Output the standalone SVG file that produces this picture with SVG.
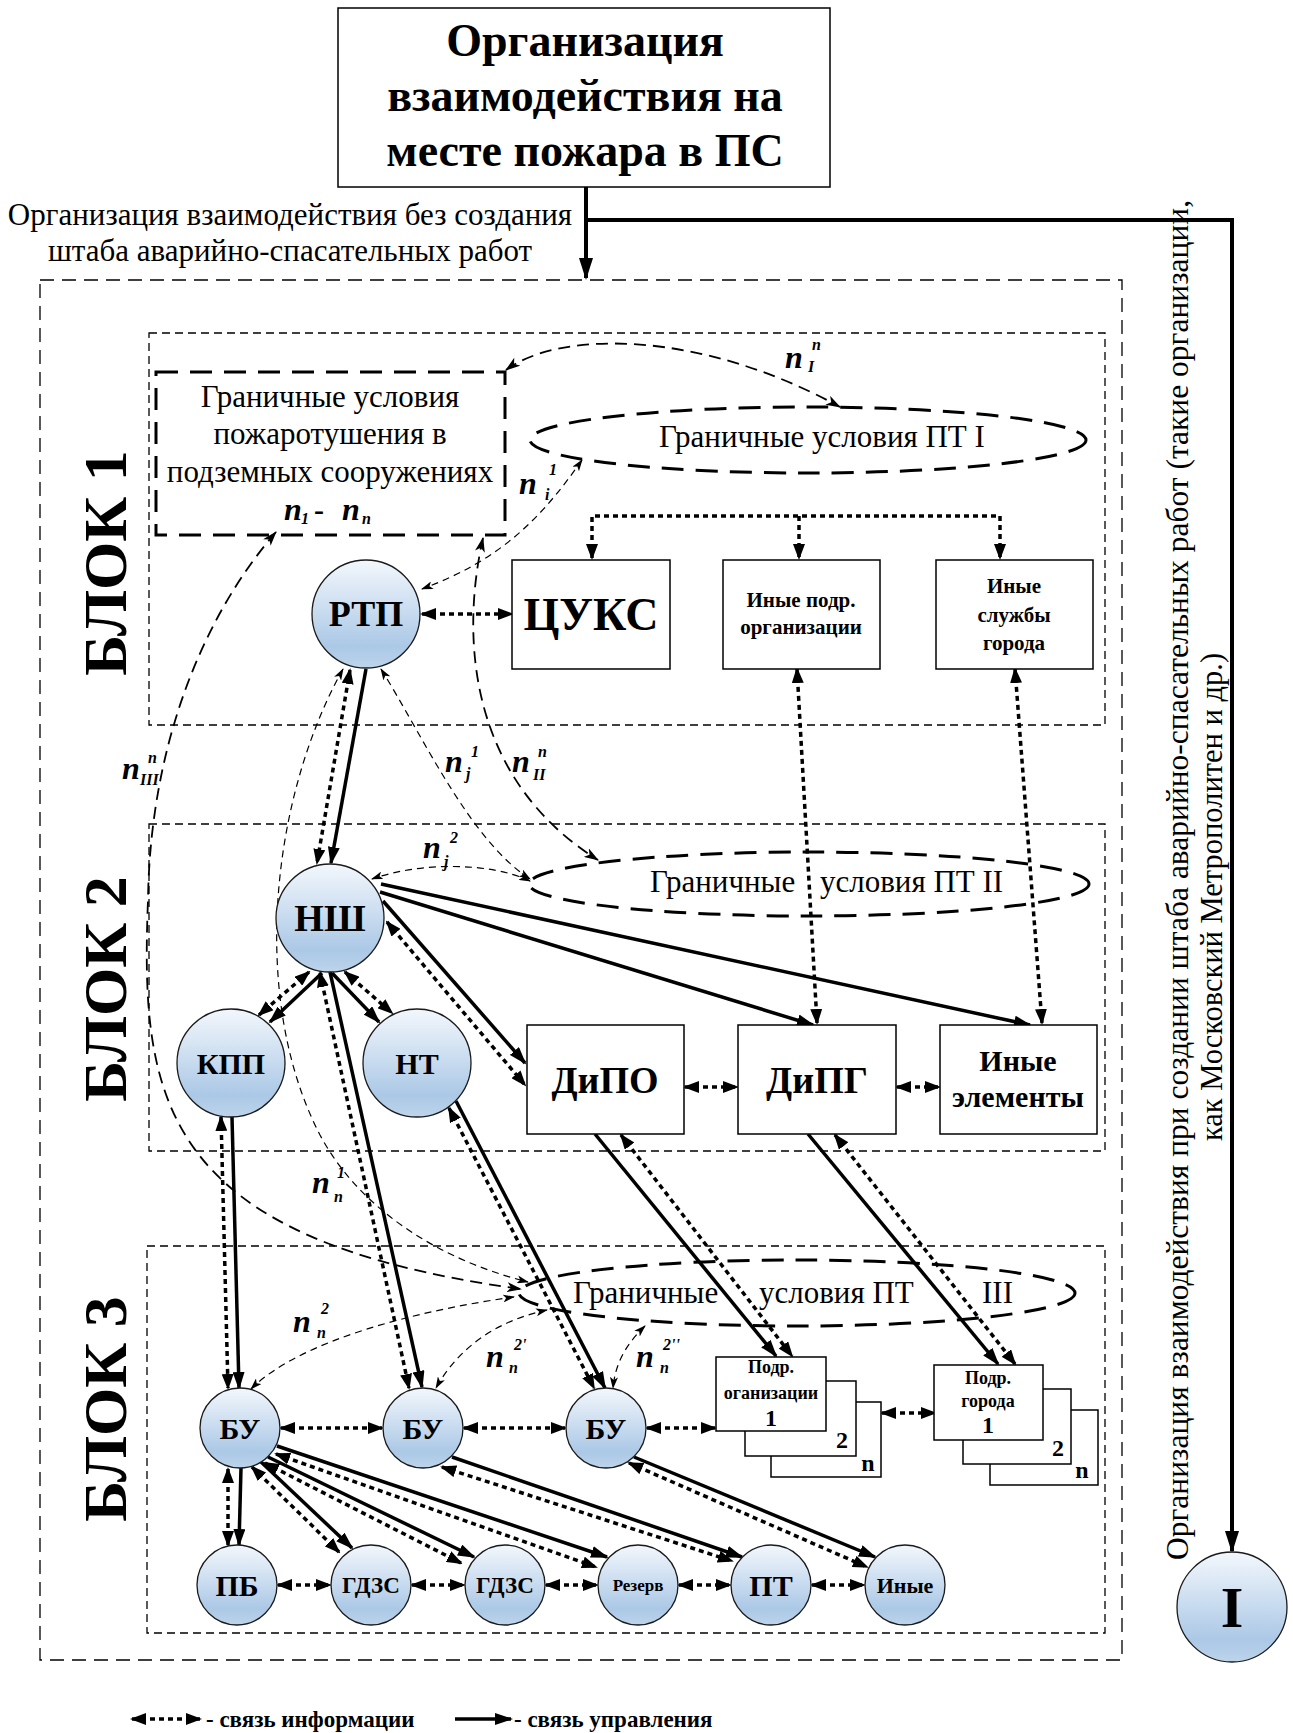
<svg xmlns="http://www.w3.org/2000/svg" width="1293" height="1733" viewBox="0 0 1293 1733">
<defs>
<linearGradient id="cg" x1="0" y1="0" x2="0" y2="1">
<stop offset="0" stop-color="#f3f7fc"/>
<stop offset="0.45" stop-color="#cbddf0"/>
<stop offset="0.8" stop-color="#abc8e6"/>
<stop offset="1" stop-color="#bdd4eb"/>
</linearGradient>
<marker id="as" viewBox="0 0 18 12" refX="16" refY="6" markerWidth="18" markerHeight="12" markerUnits="userSpaceOnUse" orient="auto-start-reverse"><path d="M0,0 L18,6 L0,12 z" fill="#000"/></marker>
<marker id="ai" viewBox="0 0 16 12" refX="14" refY="6" markerWidth="16" markerHeight="12" markerUnits="userSpaceOnUse" orient="auto-start-reverse"><path d="M0,0 L16,6 L0,12 z" fill="#000"/></marker>
<marker id="at" viewBox="0 0 12 8" refX="11" refY="4" markerWidth="12" markerHeight="8" markerUnits="userSpaceOnUse" orient="auto-start-reverse"><path d="M0,0 L12,4 L0,8 L3,4 z" fill="#000"/></marker>
<marker id="am" viewBox="0 0 15 10" refX="14" refY="5" markerWidth="15" markerHeight="10" markerUnits="userSpaceOnUse" orient="auto-start-reverse"><path d="M0,0 L15,5 L0,10 L4,5 z" fill="#000"/></marker>
<marker id="ab" viewBox="0 0 22 14" refX="20" refY="7" markerWidth="22" markerHeight="14" markerUnits="userSpaceOnUse" orient="auto-start-reverse"><path d="M0,0 L22,7 L0,14 z" fill="#000"/></marker>
</defs>
<style>
.s{fill:none;stroke:#000;stroke-width:3.5;marker-end:url(#as)}
.d{fill:none;stroke:#000;stroke-width:3.5;stroke-dasharray:5 4;marker-start:url(#ai);marker-end:url(#ai)}
.t{fill:none;stroke:#000;stroke-width:1.2;stroke-dasharray:7 5;marker-start:url(#at);marker-end:url(#at)}
.m{fill:none;stroke:#000;stroke-width:1.8;stroke-dasharray:12 7;marker-start:url(#am);marker-end:url(#am)}
.big{fill:none;stroke:#000;stroke-width:4;marker-end:url(#ab)}
.e{fill:none;stroke:#000;stroke-width:3;stroke-dasharray:22 12}
.blk{fill:none;stroke:#000;stroke-width:1.3;stroke-dasharray:8 5}
.out{fill:none;stroke:#000;stroke-width:1.3;stroke-dasharray:14 8}
.box{fill:#fff;stroke:#000;stroke-width:1.5}
.nd{fill:url(#cg);stroke:#1a1a1a;stroke-width:1.3}
text{font-family:"Liberation Serif","Times New Roman",serif;fill:#000}
.c{text-anchor:middle}
.bo{font-weight:bold}
.nl{font-weight:bold;font-style:italic;font-size:32px}
.ns{font-weight:bold;font-style:italic;font-size:16px}
.r30{font-size:31px}
</style>

<!-- frames -->
<g id="frames">
<rect class="out" x="40" y="280" width="1082" height="1380"/>
<rect class="blk" x="149" y="333" width="956" height="392"/>
<rect class="blk" x="149" y="824" width="956" height="327"/>
<rect class="blk" x="147" y="1246" width="958" height="387"/>
<text class="c bo" font-size="62" transform="translate(126,563) rotate(-90)">БЛОК 1</text>
<text class="c bo" font-size="62" transform="translate(126,989) rotate(-90)">БЛОК 2</text>
<text class="c bo" font-size="62" transform="translate(126,1409) rotate(-90)">БЛОК 3</text>
</g>

<!-- title -->
<g id="title">
<rect class="box" x="338" y="8" width="492" height="179"/>
<text class="c bo" font-size="46" x="585" y="56">Организация</text>
<text class="c bo" font-size="46" x="585" y="111">взаимодействия на</text>
<text class="c bo" font-size="46" x="585" y="166">месте пожара в ПС</text>
</g>

<g id="label-left">
<text class="c r30" x="290" y="225">Организация взаимодействия без создания</text>
<text class="c r30" x="290" y="261">штаба аварийно-спасательных работ</text>
</g>
<g id="label-right">
<text class="c" font-size="31.5" transform="translate(1188,880) rotate(-90)">Организация взаимодействия при создании штаба аварийно-спасательных работ (такие организации,</text>
<text class="c" font-size="30.5" transform="translate(1222,897) rotate(-90)">как Московский Метрополитен и др.)</text>
</g>

<!-- boundary conditions -->
<g id="gu-box">
<rect class="e" x="156" y="372" width="349" height="163"/>
<text class="c r30" x="330" y="407">Граничные условия</text>
<text class="c r30" x="330" y="444">пожаротушения в</text>
<text class="c r30" x="330" y="482">подземных сооружениях</text>
<text class="nl" font-size="30" x="284" y="520">n</text>
<text class="ns" font-size="15" x="301" y="524">1</text>
<text class="bo" font-size="30" x="314" y="520">-</text>
<text class="nl" font-size="30" x="342" y="520">n</text>
<text class="ns" font-size="15" x="362" y="524">n</text>
</g>
<g id="gu-pt1">
<ellipse class="e" cx="808" cy="440" rx="278" ry="33"/>
<text class="c r30" x="822" y="447">Граничные условия ПТ I</text>
</g>
<g id="gu-pt2">
<ellipse class="e" cx="809" cy="884" rx="280" ry="32"/>
<text class="r30" x="650" y="892">Граничные</text>
<text class="r30" x="820" y="892">условия ПТ II</text>
</g>
<g id="gu-pt3">
<ellipse class="e" cx="797" cy="1293" rx="278" ry="33"/>
<text class="r30" x="573" y="1303">Граничные</text>
<text class="r30" x="759" y="1303">условия ПТ</text>
<text class="r30" x="982" y="1303">III</text>
</g>

<!-- connectors -->
<g id="connectors">
<path class="big" d="M586,187 L586,278"/>
<path class="big" d="M586,220 L1232,220 L1232,1551"/>

<path class="s" d="M366,669 L331,863"/>
<path class="s" d="M322,973 L270,1022"/>
<path class="s" d="M332,973 L379,1022"/>
<path class="s" d="M383,901 L525,1063"/>
<path class="s" d="M380,892 L813,1025"/>
<path class="s" d="M381,884 L1030,1025"/>
<path class="s" d="M330,972 L422,1387"/>
<path class="s" d="M232,1117 L239,1388"/>
<path class="s" d="M456,1101 L605,1388"/>
<path class="s" d="M595,1134 L776,1356"/>
<path class="s" d="M808,1134 L998,1364"/>
<path class="s" d="M241,1468 L239,1545"/>
<path class="s" d="M260,1461 L352,1548"/>
<path class="s" d="M268,1457 L474,1557"/>
<path class="s" d="M277,1446 L607,1557"/>
<path class="s" d="M452,1457 L742,1557"/>
<path class="s" d="M634,1457 L875,1557"/>

<path class="d" d="M422,614 L512,614"/>
<path class="d" d="M592,558 L592,516 L1000,516 L1000,558"/>
<path class="d" style="marker-start:none" d="M799,516 L799,558"/>
<path class="d" d="M797,669 L817,1023"/>
<path class="d" d="M1015,669 L1042,1023"/>
<path class="d" d="M350,670 L317,863"/>
<path class="d" d="M309,972 L259,1015"/>
<path class="d" d="M345,972 L392,1013"/>
<path class="d" d="M387,922 L525,1085"/>
<path class="d" d="M320,973 L409,1388"/>
<path class="d" d="M221,1117 L228,1388"/>
<path class="d" d="M449,1108 L594,1388"/>
<path class="d" d="M621,1135 L792,1356"/>
<path class="d" d="M835,1135 L1015,1364"/>
<path class="d" d="M685,1087 L737,1087"/>
<path class="d" d="M897,1087 L939,1087"/>
<path class="d" d="M281,1428 L382,1428"/>
<path class="d" d="M464,1428 L565,1428"/>
<path class="d" d="M647,1428 L715,1428"/>
<path class="d" d="M882,1413 L935,1413"/>
<path class="d" d="M228,1469 L228,1545"/>
<path class="d" d="M252,1467 L339,1552"/>
<path class="d" d="M265,1463 L461,1563"/>
<path class="d" d="M276,1454 L596,1567"/>
<path class="d" d="M442,1467 L732,1561"/>
<path class="d" d="M629,1463 L867,1567"/>
<path class="d" d="M278,1585 L330,1585"/>
<path class="d" d="M412,1585 L464,1585"/>
<path class="d" d="M546,1585 L597,1585"/>
<path class="d" d="M679,1585 L730,1585"/>
<path class="d" d="M812,1585 L864,1585"/>

<path class="t" d="M582,460 C540,520 500,560 422,589"/>
<path class="t" d="M381,669 C425,740 470,840 530,879"/>
<path class="t" d="M530,881 C490,862 420,862 372,879"/>
<path class="t" d="M343,669 C270,800 250,1000 320,1135 C360,1210 440,1260 528,1282"/>
<path class="t" d="M514,1297 C420,1310 300,1340 251,1389"/>
<path class="t" d="M547,1310 C500,1320 460,1345 436,1388"/>
<path class="t" d="M645,1326 C625,1345 615,1365 613,1388"/>

<path class="m" d="M506,370 C560,330 700,330 840,407"/>
<path class="m" d="M483,538 C460,640 470,780 598,860"/>
<path class="m" d="M276,532 C200,620 150,750 148,900 C140,1100 160,1240 521,1289"/>
</g>

<!-- link labels -->
<g id="link-labels">
<text class="nl" x="785" y="368">n</text><text class="ns" x="812" y="350">n</text><text class="ns" x="808" y="372">I</text>
<text class="nl" x="519" y="494">n</text><text class="ns" x="549" y="475">1</text><text class="ns" x="545" y="500">i</text>
<text class="nl" x="122" y="779">n</text><text class="ns" x="148" y="763">n</text><text class="ns" x="140" y="785">III</text>
<text class="nl" x="445" y="772">n</text><text class="ns" x="471" y="757">1</text><text class="ns" x="466" y="779">j</text>
<text class="nl" x="512" y="772">n</text><text class="ns" x="538" y="757">n</text><text class="ns" x="533" y="780">II</text>
<text class="nl" x="423" y="858">n</text><text class="ns" x="450" y="843">2</text><text class="ns" x="444" y="867">j</text>
<text class="nl" x="312" y="1193">n</text><text class="ns" x="337" y="1178">1</text><text class="ns" x="334" y="1202">n</text>
<text class="nl" x="293" y="1332">n</text><text class="ns" x="321" y="1314">2</text><text class="ns" x="317" y="1338">n</text>
<text class="nl" x="486" y="1367">n</text><text class="ns" x="514" y="1350">2'</text><text class="ns" x="509" y="1373">n</text>
<text class="nl" x="636" y="1367">n</text><text class="ns" x="663" y="1350">2''</text><text class="ns" x="660" y="1373">n</text>
</g>

<!-- nodes -->
<g id="node-rtp"><circle class="nd" cx="366" cy="614" r="54"/><text class="c bo" font-size="36" x="366" y="626">РТП</text></g>
<g id="node-cuks"><rect class="box" x="512" y="560" width="158" height="109"/><text class="c bo" font-size="46" x="591" y="630">ЦУКС</text></g>
<g id="node-inye-podr"><rect class="box" x="723" y="560" width="157" height="109"/><text class="c bo" font-size="21" x="801" y="607">Иные подр.</text><text class="c bo" font-size="21" x="801" y="634">организации</text></g>
<g id="node-inye-sluzhby"><rect class="box" x="936" y="560" width="157" height="109"/><text class="c bo" font-size="21" x="1014" y="593">Иные</text><text class="c bo" font-size="21" x="1014" y="622">службы</text><text class="c bo" font-size="21" x="1014" y="650">города</text></g>

<g id="node-nsh"><circle class="nd" cx="330" cy="918" r="54"/><text class="c bo" font-size="38" x="330" y="931">НШ</text></g>
<g id="node-kpp"><circle class="nd" cx="231" cy="1063" r="54"/><text class="c bo" font-size="30" x="231" y="1074">КПП</text></g>
<g id="node-nt"><circle class="nd" cx="417" cy="1063" r="54"/><text class="c bo" font-size="30" x="417" y="1074">НТ</text></g>
<g id="node-dipo"><rect class="box" x="527" y="1025" width="157" height="109"/><text class="c bo" font-size="38" x="605" y="1093">ДиПО</text></g>
<g id="node-dipg"><rect class="box" x="738" y="1025" width="158" height="109"/><text class="c bo" font-size="38" x="817" y="1093">ДиПГ</text></g>
<g id="node-inye-el"><rect class="box" x="940" y="1025" width="157" height="109"/><text class="c bo" font-size="30" x="1018" y="1071">Иные</text><text class="c bo" font-size="30" x="1018" y="1107">элементы</text></g>

<g id="node-bu1"><circle class="nd" cx="240" cy="1428" r="40"/><text class="c bo" font-size="30" x="240" y="1439">БУ</text></g>
<g id="node-bu2"><circle class="nd" cx="423" cy="1428" r="40"/><text class="c bo" font-size="30" x="423" y="1439">БУ</text></g>
<g id="node-bu3"><circle class="nd" cx="606" cy="1428" r="40"/><text class="c bo" font-size="30" x="606" y="1439">БУ</text></g>

<g id="node-podr-org">
<rect class="box" x="771" y="1402" width="110" height="75"/>
<rect class="box" x="745" y="1381" width="111" height="75"/>
<rect class="box" x="716" y="1357" width="110" height="74"/>
<text class="c bo" font-size="18" x="771" y="1373">Подр.</text>
<text class="c bo" font-size="18" x="771" y="1399">оганизации</text>
<text class="c bo" font-size="24" x="771" y="1426">1</text>
<text class="c bo" font-size="24" x="842" y="1448">2</text>
<text class="c bo" font-size="24" x="868" y="1471">n</text>
</g>
<g id="node-podr-gor">
<rect class="box" x="990" y="1410" width="108" height="75"/>
<rect class="box" x="963" y="1389" width="108" height="75"/>
<rect class="box" x="934" y="1365" width="109" height="75"/>
<text class="c bo" font-size="18" x="988" y="1384">Подр.</text>
<text class="c bo" font-size="18" x="988" y="1407">города</text>
<text class="c bo" font-size="24" x="988" y="1433">1</text>
<text class="c bo" font-size="24" x="1058" y="1456">2</text>
<text class="c bo" font-size="24" x="1082" y="1478">n</text>
</g>

<g id="node-pb"><circle class="nd" cx="237" cy="1585" r="40"/><text class="c bo" font-size="30" x="237" y="1596">ПБ</text></g>
<g id="node-gdzs1"><circle class="nd" cx="371" cy="1585" r="40"/><text class="c bo" font-size="23" x="371" y="1593">ГДЗС</text></g>
<g id="node-gdzs2"><circle class="nd" cx="505" cy="1585" r="40"/><text class="c bo" font-size="23" x="505" y="1593">ГДЗС</text></g>
<g id="node-rezerv"><circle class="nd" cx="638" cy="1585" r="40"/><text class="c bo" font-size="17" x="638" y="1591">Резерв</text></g>
<g id="node-pt"><circle class="nd" cx="771" cy="1585" r="40"/><text class="c bo" font-size="30" x="771" y="1596">ПТ</text></g>
<g id="node-inye"><circle class="nd" cx="905" cy="1585" r="40"/><text class="c bo" font-size="22" x="905" y="1593">Иные</text></g>

<g id="node-I"><circle class="nd" cx="1232" cy="1607" r="55"/><text class="c bo" font-size="58" x="1232" y="1627">I</text></g>

<!-- legend -->
<g id="legend">
<path class="d" d="M132,1719 L200,1719"/>
<text class="bo" font-size="23" x="206" y="1727">- связь информации</text>
<path class="s" d="M455,1719 L511,1719"/>
<text class="bo" font-size="23" x="514" y="1727">- связь управления</text>
</g>
</svg>
